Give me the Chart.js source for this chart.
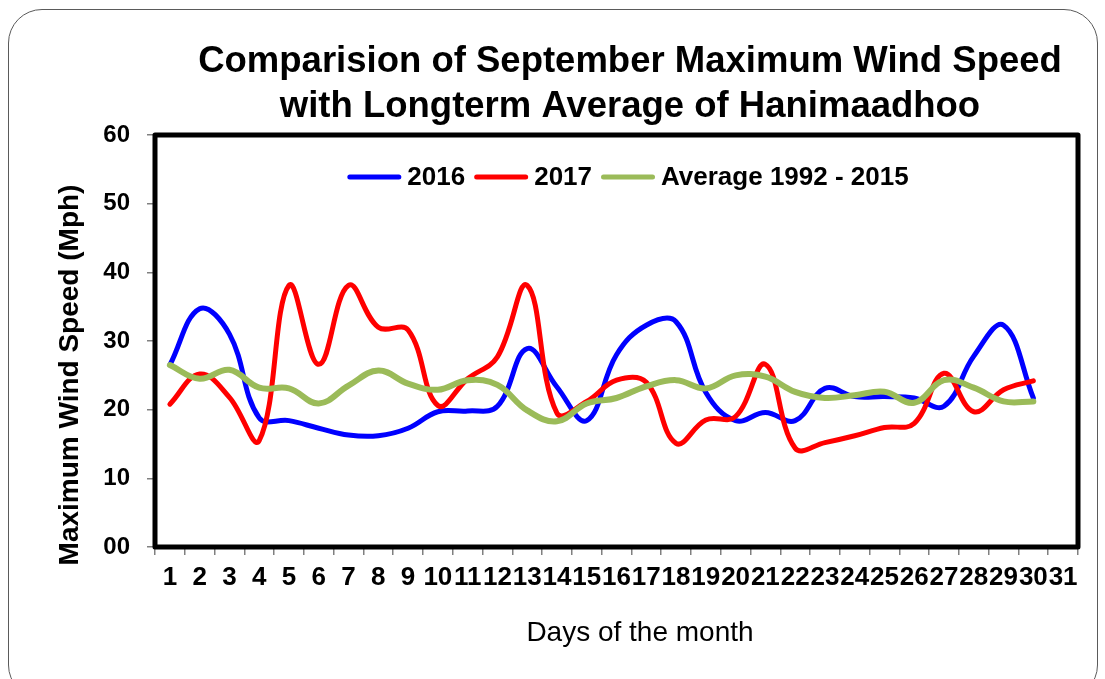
<!DOCTYPE html>
<html>
<head>
<meta charset="utf-8">
<script src="https://cdn.jsdelivr.net/npm/chart.js@4.4.1/dist/chart.umd.min.js"></script>
<style>
html,body{margin:0;padding:0;background:#fff;}
#wrap{position:relative;width:1105px;height:679px;overflow:hidden;background:#fff;}
#frame{position:absolute;left:8px;top:9px;width:1090px;height:690px;border:1.5px solid #5a5a5a;border-radius:34px;box-sizing:border-box;}
canvas{position:absolute;left:0;top:0;}
</style>
</head>
<body>
<div id="wrap"><div id="frame"></div><canvas id="c" width="1105" height="679"></canvas></div>
<script>
// ---- data ----
const days = ['1','2','3','4','5','6','7','8','9','10','11','12','13','14','15','16','17','18','19','20','21','22','23','24','25','26','27','28','29','30','31'];
const s2016 = [26.5, 34.7, 31.0, 18.8, 18.4, 17.3, 16.3, 16.2, 17.3, 19.7, 19.8, 20.5, 28.9, 23.3, 18.4, 28.0, 32.3, 32.8, 22.5, 18.4, 19.6, 18.4, 23.1, 21.9, 21.9, 21.7, 20.5, 27.8, 32.3, 21.7];
const s2017 = [20.8, 25.2, 21.8, 15.5, 38.1, 26.6, 38.1, 32.0, 31.6, 20.6, 24.5, 27.7, 38.1, 19.5, 21.2, 24.3, 24.0, 15.1, 18.5, 19.0, 26.6, 14.4, 15.2, 16.2, 17.4, 18.0, 25.3, 19.7, 22.9, 24.2];
const avg9215 = [26.5, 24.5, 25.8, 23.2, 23.1, 20.9, 23.5, 25.7, 23.8, 22.9, 24.3, 23.6, 19.9, 18.3, 20.9, 21.7, 23.4, 24.3, 23.1, 25.0, 24.8, 22.6, 21.7, 22.1, 22.6, 21.0, 24.3, 23.2, 21.2, 21.2];
const seriesNames = ['2016', '2017', 'Average 1992 - 2015'];
const yTicks = [0, 10, 20, 30, 40, 50, 60];
const titleLines = ['Comparision of September Maximum Wind Speed', 'with Longterm Average of Hanimaadhoo'];
const xTitle = 'Days of the month';
const yTitle = 'Maximum Wind Speed (Mph)';

const FONT = '"Liberation Sans", Arial, Helvetica, sans-serif';

// frame, titles and in-plot legend
const annot = {
  id: 'annot',
  afterDraw(chart) {
    const {ctx, chartArea: a} = chart;
    ctx.save();
    // plot frame
    ctx.strokeStyle = '#000';
    ctx.lineWidth = 5;
    ctx.lineJoin = 'round';
    ctx.strokeRect(a.left, a.top, a.right - a.left, a.bottom - a.top);
    // titles
    ctx.fillStyle = '#000';
    ctx.textAlign = 'center';
    ctx.textBaseline = 'alphabetic';
    ctx.font = 'bold 36.5px ' + FONT;
    ctx.fillText(titleLines[0], 630, 72);
    ctx.fillText(titleLines[1], 630, 117);
    ctx.textBaseline = 'middle';
    ctx.font = '28px ' + FONT;
    ctx.fillText(xTitle, 640, 633);
    ctx.save();
    ctx.translate(70, 375);
    ctx.rotate(-Math.PI / 2);
    ctx.font = 'bold 28px ' + FONT;
    ctx.fillText(yTitle, 0, 0);
    ctx.restore();
    // legend (horizontal, inside plot area)
    ctx.font = 'bold 26px ' + FONT;
    ctx.textAlign = 'left';
    ctx.textBaseline = 'middle';
    const segLen = 49, cap = 2.5, gapText = 6, gapItem = 9;
    const ds = chart.data.datasets;
    const widths = ds.map(d => ctx.measureText(d.label).width);
    let total = 0;
    ds.forEach((d, i) => { total += cap + segLen + cap + gapText + widths[i]; if (i < ds.length - 1) total += gapItem; });
    let x = 628 - total / 2;
    const y = 177;
    ds.forEach((d, i) => {
      ctx.strokeStyle = d.borderColor;
      ctx.lineWidth = 5;
      ctx.lineCap = 'round';
      ctx.beginPath();
      ctx.moveTo(x + cap, y);
      ctx.lineTo(x + cap + segLen, y);
      ctx.stroke();
      x += cap + segLen + cap + gapText;
      ctx.fillStyle = '#000';
      ctx.fillText(d.label, x, y + 1);
      x += widths[i] + gapItem;
    });
    ctx.restore();
  }
};

new Chart(document.getElementById('c'), {
  type: 'line',
  data: {
    labels: days,
    datasets: [
      {label: seriesNames[0], data: s2016, borderColor: '#0000FF', backgroundColor: '#0000FF', borderWidth: 5, order: 3},
      {label: seriesNames[1], data: s2017, borderColor: '#FF0000', backgroundColor: '#FF0000', borderWidth: 5, order: 2},
      {label: seriesNames[2], data: avg9215, borderColor: '#9BBB59', backgroundColor: '#9BBB59', borderWidth: 6, order: 1}
    ]
  },
  options: {
    responsive: false,
    animation: false,
    devicePixelRatio: 1,
    layout: {padding: {left: 0, top: 135, right: 27, bottom: 0}},
    elements: {
      point: {radius: 0, hoverRadius: 0},
      line: {tension: 0.4, borderCapStyle: 'round', borderJoinStyle: 'round', fill: false}
    },
    plugins: {
      title: {display: false},
      tooltip: {enabled: false},
      legend: {display: false}
    },
    scales: {
      x: {
        type: 'category',
        offset: true,
        afterFit(scale) { scale.height = 132; },
        grid: {display: true, offset: true, drawOnChartArea: false, drawTicks: true, tickLength: 8, color: '#808080', lineWidth: 1.5},
        border: {display: false},
        ticks: {autoSkip: false, maxRotation: 0, minRotation: 0, padding: 7, color: '#000', font: {family: FONT, size: 26, weight: 'bold'}}
      },
      y: {
        min: yTicks[0],
        max: yTicks[yTicks.length - 1],
        afterFit(scale) { scale.width = 155; },
        afterBuildTicks(scale) { scale.ticks = yTicks.map(v => ({value: v})); },
        grid: {display: true, drawOnChartArea: false, drawTicks: true, tickLength: 8, color: '#808080', lineWidth: 1.5},
        border: {display: false},
        ticks: {
          padding: 17,
          color: '#000',
          font: {family: FONT, size: 24, weight: 'bold'},
          callback: (v) => (v === 0 ? '00' : String(v))
        }
      }
    }
  },
  plugins: [annot]
});
</script>
</body>
</html>
